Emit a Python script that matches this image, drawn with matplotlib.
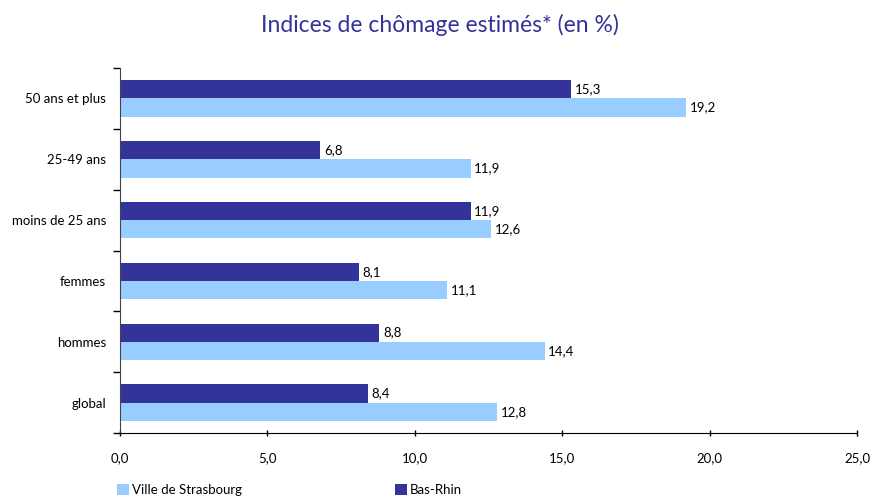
import matplotlib.pyplot as plt
import numpy as np

# categories listed bottom to top
categories = ['global', 'hommes', 'femmes', 'moins de 25 ans', '25-49 ans', '50 ans et plus']
strasbourg = [12.8, 14.4, 11.1, 12.6, 11.9, 19.2]
bas_rhin = [8.4, 8.8, 8.1, 11.9, 6.8, 15.3]
x_ticks = [0, 5, 10, 15, 20, 25]

dark = '#333399'
light = '#99ccff'

plt.rcParams['font.family'] = ['Lato', 'DejaVu Sans']

fig = plt.figure(figsize=(8.71, 4.97), dpi=100)
ax = fig.add_axes([120 / 871, 1 - 433 / 497, (857 - 120) / 871, (433 - 68) / 497])

y = np.arange(len(categories))
h = 0.3
ax.barh(y + h / 2, bas_rhin, height=h, color=dark, label='Bas-Rhin')
ax.barh(y - h / 2, strasbourg, height=h, color=light, label='Ville de Strasbourg')

for yi, v in zip(y, bas_rhin):
    ax.text(v + 0.12, yi + h / 2, f'{v:.1f}'.replace('.', ','), va='center', ha='left', fontsize=9.5)
for yi, v in zip(y, strasbourg):
    ax.text(v + 0.12, yi - h / 2, f'{v:.1f}'.replace('.', ','), va='center', ha='left', fontsize=9.5)

ax.set_xlim(0, 25)
ax.set_ylim(-0.5, len(categories) - 0.5)
ax.set_xticks(x_ticks)
ax.set_xticklabels([f'{t:.1f}'.replace('.', ',') for t in x_ticks], fontsize=9.5)
ax.set_yticks(y)
ax.set_yticklabels(categories, fontsize=9.5)
ax.set_yticks(np.arange(-0.5, len(categories)), minor=True)
ax.tick_params(axis='y', which='major', length=0, pad=10)
ax.tick_params(axis='y', which='minor', length=5, width=1, direction='out')
ax.tick_params(axis='x', length=4, width=1, direction='inout', pad=12)

for s in ['top', 'right']:
    ax.spines[s].set_visible(False)
ax.spines['left'].set_color('#444444')
ax.spines['bottom'].set_color('black')

fig.text(440 / 871, 1 - 25 / 497, 'Indices de chômage estimés* (en %)', ha='center', va='center',
         fontsize=16.5, color=dark)

handles, labels = ax.get_legend_handles_labels()
fig.legend(handles[::-1], labels[::-1], loc='center left', bbox_to_anchor=(112 / 871, 1 - 490 / 497),
           ncol=2, frameon=False, fontsize=9.5, handlelength=0.9, handleheight=0.9,
           handletextpad=0.2, columnspacing=11.6, borderaxespad=0)

fig.savefig('out.png', dpi=100)
